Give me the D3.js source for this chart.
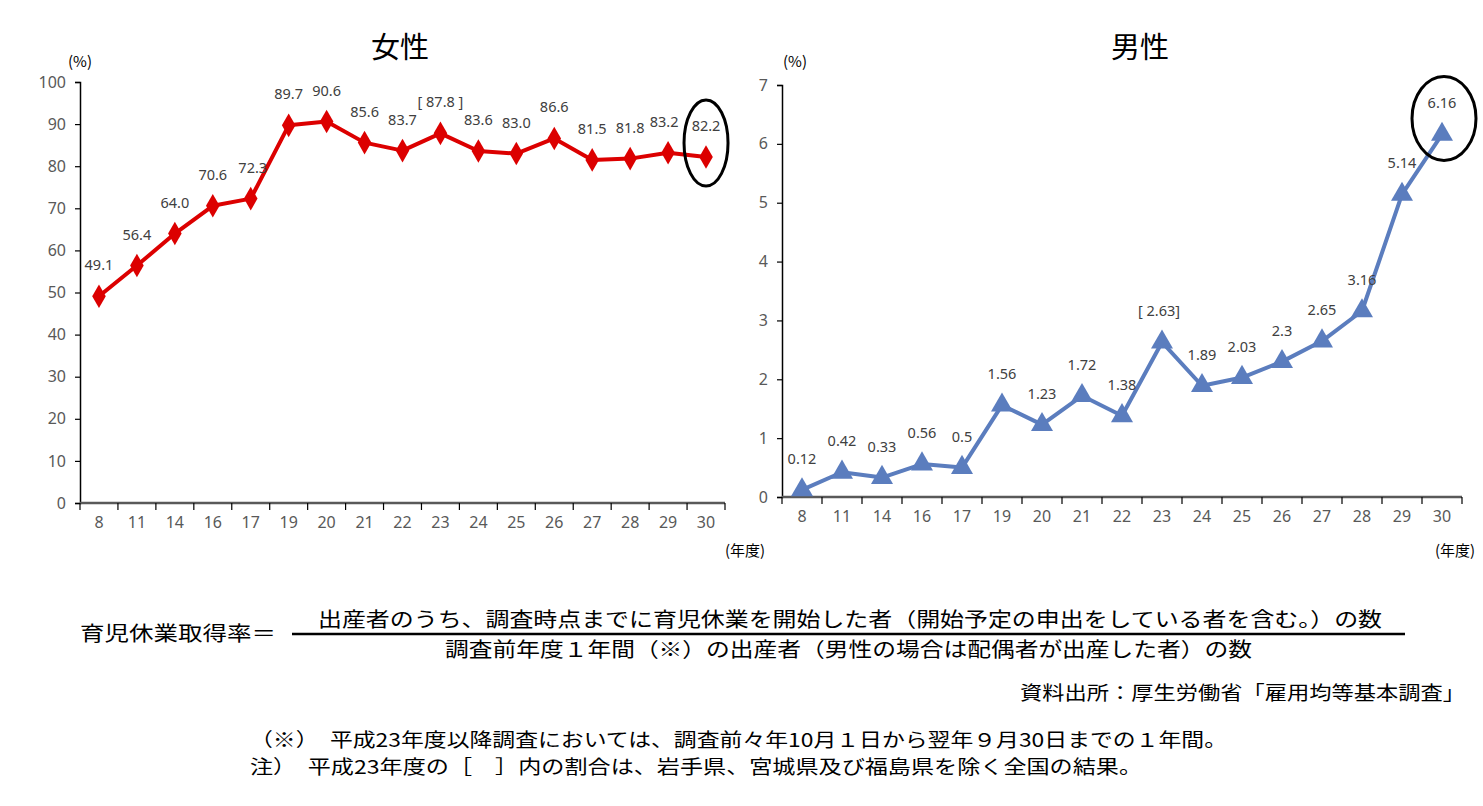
<!DOCTYPE html>
<html><head><meta charset="utf-8">
<script src="https://cdn.jsdelivr.net/npm/d3@7"></script>
<style>
body{margin:0;background:#fff;}
text{font-family:"Noto Sans CJK JP","Noto Sans",sans-serif;}
</style></head>
<body>
<svg id="c" width="1483" height="806"></svg>
<script>
const years = ["8","11","14","16","17","19","20","21","22","23","24","25","26","27","28","29","30"];
const female = [49.1,56.4,64.0,70.6,72.3,89.7,90.6,85.6,83.7,87.8,83.6,83.0,86.6,81.5,81.8,83.2,82.2];
const femaleLabels = ["49.1","56.4","64.0","70.6","72.3","89.7","90.6","85.6","83.7","[ 87.8 ]","83.6","83.0","86.6","81.5","81.8","83.2","82.2"];
const male = [0.12,0.42,0.33,0.56,0.5,1.56,1.23,1.72,1.38,2.63,1.89,2.03,2.3,2.65,3.16,5.14,6.16];
const maleLabels = ["0.12","0.42","0.33","0.56","0.5","1.56","1.23","1.72","1.38","[ 2.63]","1.89","2.03","2.3","2.65","3.16","5.14","6.16"];
const femaleTicks = [0,10,20,30,40,50,60,70,80,90,100];
const maleTicks = [0,1,2,3,4,5,6,7];
const formulaLeft = "育児休業取得率＝";
const numerator = "出産者のうち、調査時点までに育児休業を開始した者（開始予定の申出をしている者を含む。）の数";
const denominator = "調査前年度１年間（※）の出産者（男性の場合は配偶者が出産した者）の数";
const source = "資料出所：厚生労働省「雇用均等基本調査」";
const note1 = "（※）　平成23年度以降調査においては、調査前々年10月１日から翌年９月30日までの１年間。";
const note2 = "注）　平成23年度の［　］内の割合は、岩手県、宮城県及び福島県を除く全国の結果。";

const svg = d3.select("#c");

function panel(cfg){
  const g = svg.append("g");
  const x = d3.scaleBand().domain(years).range([cfg.x0, cfg.x1]);
  const y = d3.scaleLinear().domain([0, cfg.ymax]).range([cfg.y0, cfg.y1]);
  const ya = g.append("g").attr("transform",`translate(${cfg.x0},0)`)
    .call(d3.axisLeft(y).tickValues(cfg.ticks).tickFormat(d3.format("d")).tickSize(5).tickPadding(9));
  ya.select(".domain").attr("stroke","#000").attr("stroke-width",1.5);
  ya.selectAll(".tick line").attr("stroke","#000").attr("stroke-width",1.2);
  ya.selectAll(".tick text").attr("fill","#595959").style("font-size","16px").style("font-family","'Noto Sans',sans-serif");
  const xa = g.append("g").attr("transform",`translate(0,${cfg.y0})`)
    .call(d3.axisBottom(x).tickSize(0).tickPadding(14));
  xa.select(".domain").remove();
  xa.selectAll(".tick text").attr("fill","#595959").style("font-size","16px").style("font-family","'Noto Sans',sans-serif");
  g.append("line").attr("x1",cfg.x0).attr("x2",cfg.x1).attr("y1",cfg.y0).attr("y2",cfg.y0)
    .attr("stroke","#595959").attr("stroke-width",2.5);
  const bounds = years.map(d=>x(d)).concat([cfg.x1]);
  g.selectAll(".xt").data(bounds).enter().append("line")
    .attr("x1",d=>d).attr("x2",d=>d).attr("y1",cfg.y0).attr("y2",cfg.y0+7)
    .attr("stroke","#000").attr("stroke-width",1.2);
  const cx = d=>x(d)+x.bandwidth()/2;
  const line = d3.line().x((d,i)=>cx(years[i])).y(d=>y(d));
  g.append("path").datum(cfg.data).attr("d",line).attr("fill","none")
    .attr("stroke",cfg.color).attr("stroke-width",4).attr("stroke-linejoin","round");
  g.selectAll(".m").data(cfg.data).enter().append("path")
    .attr("d",d3.symbol().type(cfg.symbol).size(cfg.msize))
    .attr("transform",(d,i)=>`translate(${cx(years[i])},${y(d)})`)
    .attr("fill",cfg.color);
  g.selectAll(".l").data(cfg.data).enter().append("text")
    .attr("x",(d,i)=>cx(years[i])+(cfg.dx[i]||0)).attr("y",d=>y(d)-26)
    .attr("text-anchor","middle").attr("fill","#404040")
    .style("font-size","14.5px").style("font-family","'Noto Sans',sans-serif")
    .text((d,i)=>cfg.labels[i]);
  g.append("text").attr("x",cfg.tx).attr("y",58).attr("text-anchor","middle")
    .style("font-size","29px").attr("fill","#000").text(cfg.title);
  g.append("text").attr("x",cfg.px).attr("y",67).attr("text-anchor","middle")
    .style("font-size","15px").attr("fill","#000").text("(%)");
  g.append("text").attr("x",cfg.nx).attr("y",556).attr("text-anchor","middle")
    .style("font-size","15px").attr("fill","#000").text("(年度)");
  const last = years[years.length-1];
  g.append("ellipse").attr("cx",cx(last)+cfg.ex).attr("cy",y(cfg.data[cfg.data.length-1])+cfg.ey)
    .attr("rx",cfg.erx).attr("ry",cfg.ery).attr("fill","none").attr("stroke","#000").attr("stroke-width",3);
}

panel({x0:80,x1:725,y0:503,y1:82,ymax:100,ticks:femaleTicks,data:female,labels:femaleLabels,
  color:"#dc0000",symbol:d3.symbolDiamond,msize:160,title:"女性",tx:400,px:80,nx:745,
  ex:0,ey:-14,erx:22,ery:43,dx:{4:2,15:-4}});
panel({x0:782,x1:1462,y0:497,y1:85,ymax:7,ticks:maleTicks,data:male,labels:maleLabels,
  color:"#5b7dbe",symbol:d3.symbolTriangle,msize:210,title:"男性",tx:1140,px:795,nx:1455,
  ex:2,ey:-16,erx:32,ery:42,dx:{9:-3}});

// formula
svg.append("text").attr("x",80).attr("y",641).style("font-size","20px").attr("fill","#000")
  .attr("textLength",196).attr("lengthAdjust","spacingAndGlyphs").text(formulaLeft);
svg.append("text").attr("x",318).attr("y",627).style("font-size","20px").attr("fill","#000")
  .attr("textLength",1064).attr("lengthAdjust","spacingAndGlyphs").text(numerator);
svg.append("line").attr("x1",292).attr("x2",1405).attr("y1",634).attr("y2",634)
  .attr("stroke","#000").attr("stroke-width",2.5);
svg.append("text").attr("x",445).attr("y",657).style("font-size","20px").attr("fill","#000")
  .attr("textLength",807).attr("lengthAdjust","spacingAndGlyphs").text(denominator);
svg.append("text").attr("x",1020).attr("y",700).style("font-size","19px").attr("fill","#000")
  .attr("textLength",445).attr("lengthAdjust","spacingAndGlyphs").text(source);
svg.append("text").attr("x",250).attr("y",747).style("font-size","19px").attr("fill","#000")
  .attr("textLength",977).attr("lengthAdjust","spacingAndGlyphs").text(note1);
svg.append("text").attr("x",250).attr("y",774).style("font-size","19px").attr("fill","#000")
  .attr("textLength",892).attr("lengthAdjust","spacingAndGlyphs").text(note2);
</script>
</body></html>
